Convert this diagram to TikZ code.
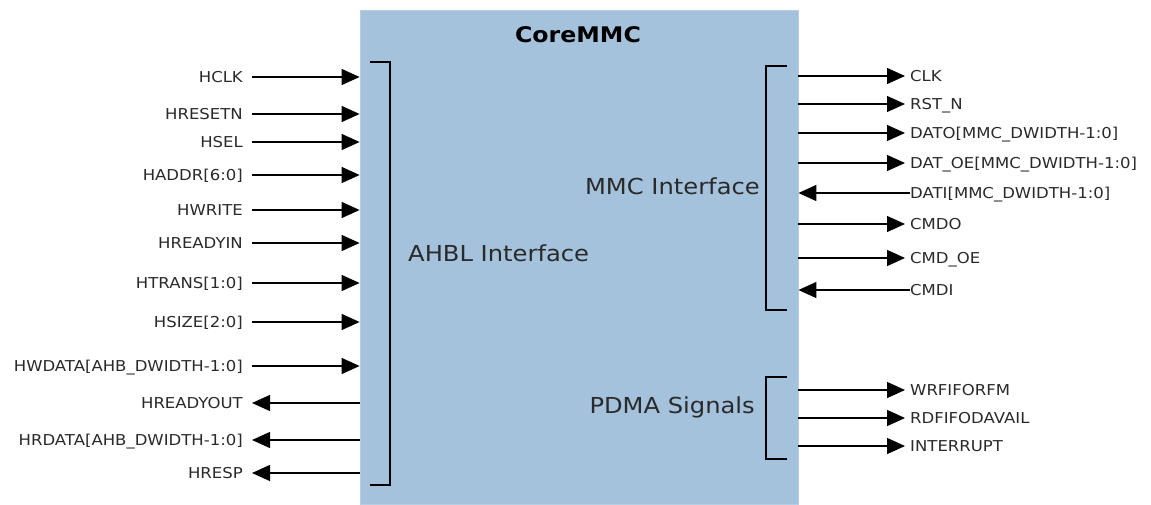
\documentclass[tikz,border=0pt]{standalone}
\usepackage{fontspec}
\setmainfont{DejaVu Sans}[FakeStretch=1.1]
\usetikzlibrary{arrows.meta}
\definecolor{boxblue}{HTML}{A4C2DC}
\definecolor{ink}{HTML}{2A2A2A}
\begin{document}
\begin{tikzpicture}[x=1pt,y=-1pt,
  lbl/.style={inner sep=0pt, font=\fontsize{15}{17}\selectfont, text height=10.9pt, text depth=0pt, text=ink},
  big/.style={inner sep=0pt, font=\fontsize{22}{26}\selectfont, text height=16pt, text depth=0pt, text=ink},
  sig/.style={line width=1.3pt, draw=black, -{Triangle[length=18pt,width=16pt]}},
  brk/.style={line width=1.5pt, draw=black}]
\useasboundingbox (0,0) rectangle (1151,504);
\node[fill=boxblue, draw=boxblue!80!white, line width=0.8pt, minimum width=438pt, minimum height=494pt, inner sep=0pt] (core) at (579,257) {};
\node[inner sep=0pt, font=\fontsize{21.5}{24}\bfseries\selectfont, text height=15.5pt, text depth=0pt] (title) at (578,35) {CoreMMC};
% left signals
\foreach \n/\y/\t in {a/77/HCLK, b/114/HRESETN, c/142/HSEL, d/175/{HADDR[6:0]}, e/210/HWRITE, f/243/HREADYIN, g/283/{HTRANS[1:0]}, h/322/{HSIZE[2:0]}, i/366/{HWDATA[AHB\_DWIDTH-1:0]}}
  {\node[lbl, anchor=east] (L\n) at (243,\y) {\t};
   \draw[sig] ([xshift=9pt]L\n.east) -- (core.west |- L\n.east);}
\foreach \n/\y/\t in {j/403/HREADYOUT, k/440/{HRDATA[AHB\_DWIDTH-1:0]}, l/473/HRESP}
  {\node[lbl, anchor=east] (L\n) at (243,\y) {\t};
   \draw[sig] (core.west |- L\n.east) -- ([xshift=9pt]L\n.east);}
% right signals
\foreach \n/\y/\t in {a/76/CLK, b/104/RST\_N, c/133/{DATO[MMC\_DWIDTH-1:0]}, d/163/{DAT\_OE[MMC\_DWIDTH-1:0]}, f/224/CMDO, g/258/CMD\_OE, p/390/WRFIFORFM, q/418/RDFIFODAVAIL, r/446/INTERRUPT}
  {\node[lbl, anchor=west] (R\n) at (910,\y) {\t};
   \draw[sig] (core.east |- R\n.west) -- ([xshift=-5pt]R\n.west);}
\foreach \n/\y/\t in {e/193/{DATI[MMC\_DWIDTH-1:0]}, h/290/CMDI}
  {\node[lbl, anchor=west] (R\n) at (910,\y) {\t};
   \draw[sig] (R\n.west) -- (core.east |- R\n.west);}
% brackets
\draw[brk] (370,62) -- (390,62) -- (390,485) -- (370,485);
\draw[brk] (787,66) -- (766,66) -- (766,310) -- (787,310);
\draw[brk] (787,377) -- (766,377) -- (766,459) -- (787,459);
% group labels
\node[big, anchor=west] (ahbl) at (408,253) {AHBL Interface};
\node[big, anchor=east] (mmc) at (760,186) {MMC Interface};
\node[big, anchor=east] (pdma) at (755,405) {PDMA Signals};
\end{tikzpicture}
\end{document}
